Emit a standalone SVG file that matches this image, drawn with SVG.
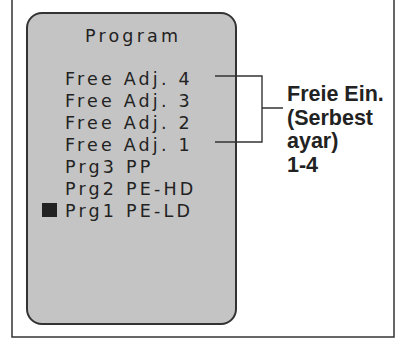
<svg xmlns="http://www.w3.org/2000/svg" width="400" height="342" viewBox="0 0 400 342">
<style>
.frame{fill:#fff;stroke:#333;stroke-width:1.5}
.panel{fill:#c4c4c4;stroke:#333;stroke-width:2}
.mono{font-family:"DejaVu Sans",sans-serif;font-size:17.5px;letter-spacing:3.2px;fill:#222}
.lbl{font-family:"Liberation Sans",Arial,sans-serif;font-weight:bold;font-size:21.5px;fill:#222}
.con{stroke:#333;stroke-width:1.4;fill:none}
</style>
<rect x="0" y="0" width="400" height="342" fill="#fff"/>
<g id="frame"><rect class="frame" x="12" y="-5" width="382" height="342"/></g>
<g id="display">
<rect class="panel" x="27" y="13" width="209" height="311" rx="15"/>
<text class="mono" x="85" y="42">Program</text>
<text class="mono" x="65" y="85">Free Adj. 4</text>
<text class="mono" x="65" y="107">Free Adj. 3</text>
<text class="mono" x="65" y="129">Free Adj. 2</text>
<text class="mono" x="65" y="151">Free Adj. 1</text>
<text class="mono" x="65" y="173">Prg3 PP</text>
<text class="mono" x="65" y="195">Prg2 PE-HD</text>
<rect x="42" y="203" width="15" height="14" fill="#222"/>
<text class="mono" x="65" y="217">Prg1 PE-LD</text>
</g>
<g id="connectors">
<path class="con" d="M215 76H262V142H215M262 108H283"/>
</g>
<g id="label">
<text class="lbl" x="287" y="101">Freie Ein.</text>
<text class="lbl" x="287" y="124.5">(Serbest</text>
<text class="lbl" x="287" y="148">ayar)</text>
<text class="lbl" x="287" y="172">1-4</text>
</g>
</svg>
